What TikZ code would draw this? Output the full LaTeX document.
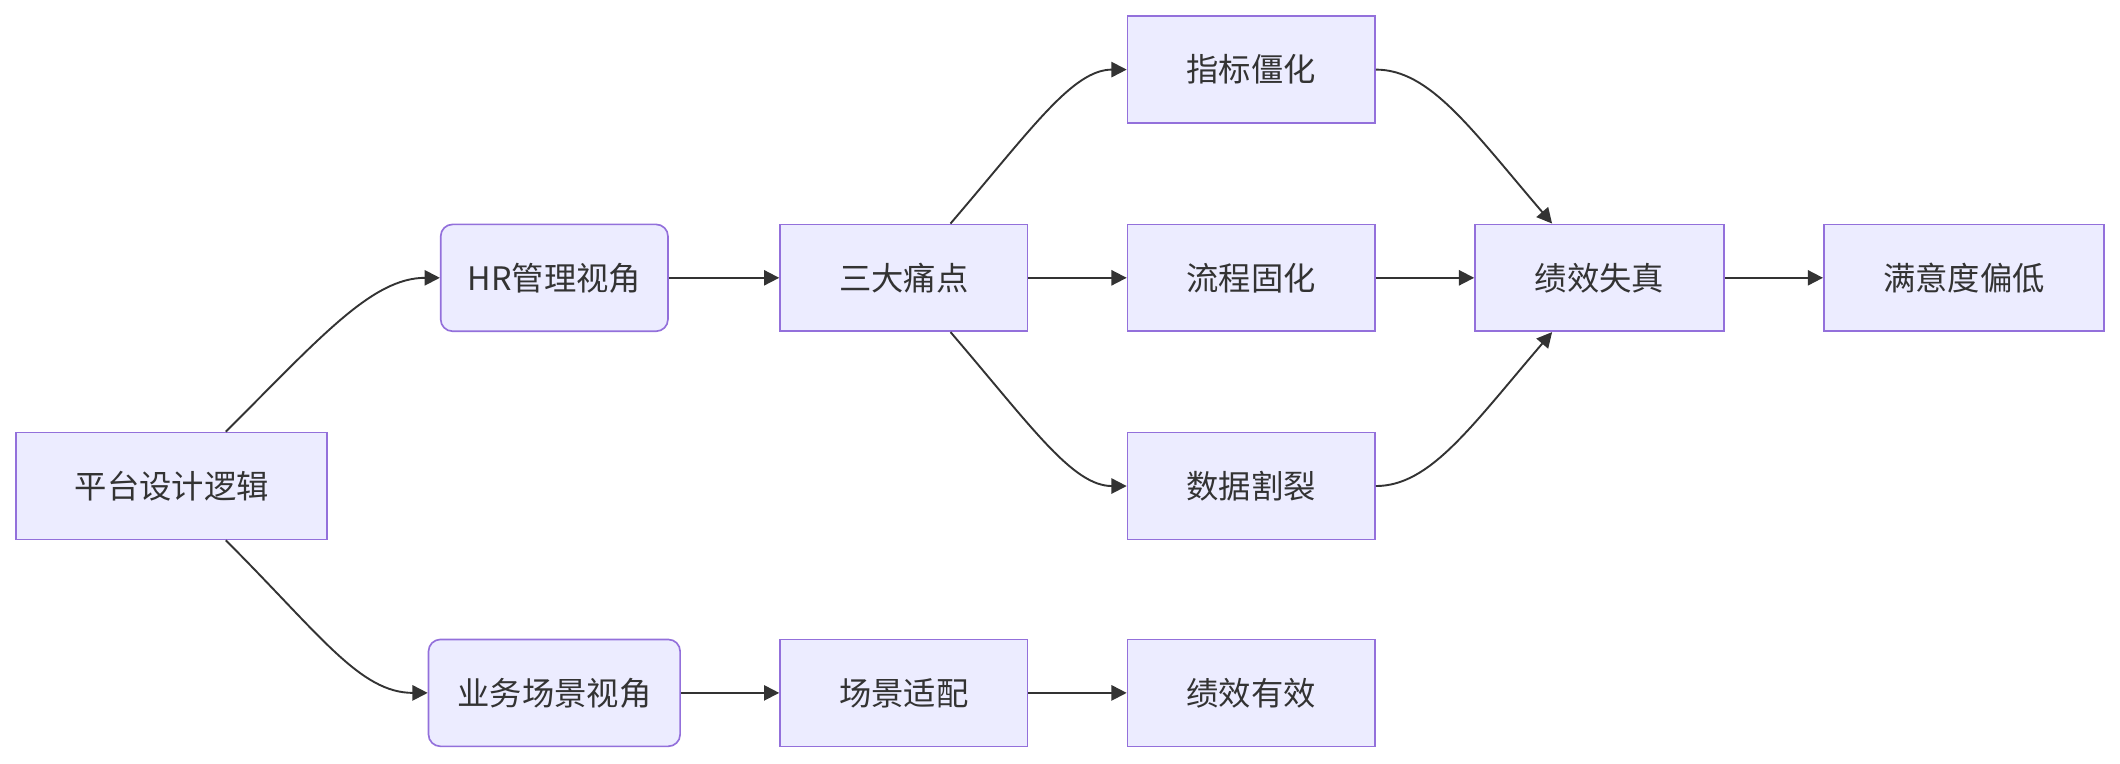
\documentclass[tikz,border=0pt]{standalone}
\usepackage{fontspec}
\setmainfont{Noto Sans CJK SC}
\usetikzlibrary{arrows.meta}
\definecolor{nfill}{HTML}{ECECFF}
\definecolor{nline}{HTML}{9370DB}
\definecolor{eline}{HTML}{333333}
\begin{document}
\begin{tikzpicture}[x=0.01cm,y=-0.01cm,
  box/.style={draw=nline,fill=nfill,line width=0.35pt,inner sep=0pt,font=\fontsize{6.8pt}{8pt}\selectfont,text=eline},
  rbox/.style={box,rounded corners=2.5pt},
  e/.style={draw=eline,line width=0.4pt,-{Triangle[length=3.2pt,width=3.2pt]}}]
\useasboundingbox (0,0) rectangle (1568,565);
\node[box,minimum width=230\pgflinewidth,text width=0,minimum width=2.30cm,minimum height=0.79cm] (p) at (127,359.5) {};
\node[box,minimum width=2.30cm,minimum height=0.79cm] (p) at (127,359.5) {平台设计逻辑};
\node[rbox,minimum width=1.68cm,minimum height=0.79cm] (hr) at (410,205.5) {HR管理视角};
\node[rbox,minimum width=1.86cm,minimum height=0.79cm] (yw) at (410,512.5) {业务场景视角};
\node[box,minimum width=1.83cm,minimum height=0.79cm] (sd) at (668.5,205.5) {三大痛点};
\node[box,minimum width=1.83cm,minimum height=0.79cm] (cj) at (668.5,512.5) {场景适配};
\node[box,minimum width=1.83cm,minimum height=0.79cm] (zb) at (925.5,51.5) {指标僵化};
\node[box,minimum width=1.83cm,minimum height=0.79cm] (lc) at (925.5,205.5) {流程固化};
\node[box,minimum width=1.83cm,minimum height=0.79cm] (sj) at (925.5,359.5) {数据割裂};
\node[box,minimum width=1.83cm,minimum height=0.79cm] (yx) at (925.5,512.5) {绩效有效};
\node[box,minimum width=1.84cm,minimum height=0.79cm] (sz) at (1183,205.5) {绩效失真};
\node[box,minimum width=2.07cm,minimum height=0.79cm] (my) at (1452.5,205.5) {满意度偏低};
\draw[e] ([xshift=0.4cm]p.north) .. controls +(70,-70) and +(-50,0) .. (hr.west);
\draw[e] ([xshift=0.4cm]p.south) .. controls +(70,70) and +(-50,0) .. (yw.west);
\draw[e] (hr) -- (sd);
\draw[e] (yw) -- (cj);
\draw[e] (cj) -- (yx);
\draw[e] ([xshift=0.345cm]sd.north) .. controls +(60,-70) and +(-40,0) .. (zb.west);
\draw[e] ([xshift=0.345cm]sd.south) .. controls +(60,70) and +(-40,0) .. (sj.west);
\draw[e] (sd) -- (lc);
\draw[e] (zb.east) .. controls +(40,0) and +(-60,-70) .. ([xshift=-0.35cm]sz.north);
\draw[e] (sj.east) .. controls +(40,0) and +(-60,70) .. ([xshift=-0.35cm]sz.south);
\draw[e] (lc) -- (sz);
\draw[e] (sz) -- (my);
\end{tikzpicture}
\end{document}
